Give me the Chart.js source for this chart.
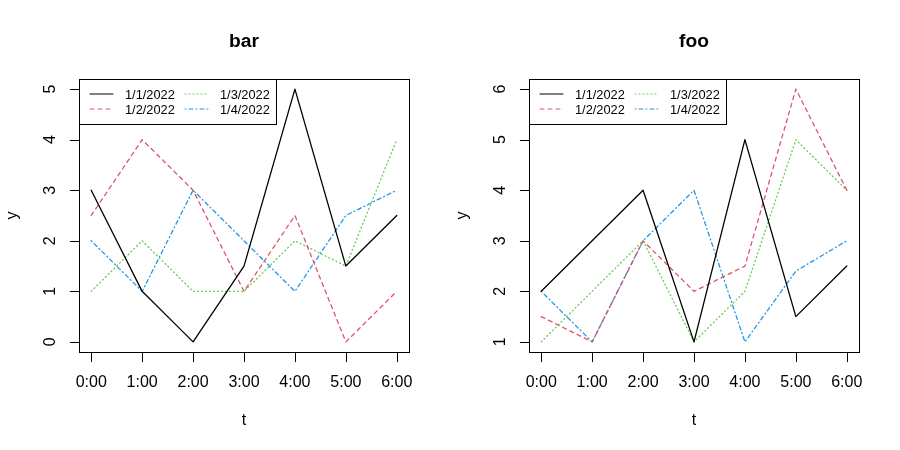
<!DOCTYPE html>
<html>
<head>
<meta charset="utf-8">
<script src="https://cdn.jsdelivr.net/npm/chart.js@4/dist/chart.umd.min.js"></script>
<style>
    html, body { margin: 0; padding: 0; background: #ffffff; }
    #wrap { width: 900px; height: 450px; display: flex; }
    canvas { display: block; }
</style>
</head>
<body>
<div id="wrap">
    <canvas id="graficoBar" width="450" height="450"></canvas>
    <canvas id="graficoFoo" width="450" height="450"></canvas>
</div>
<script>
// ============================================
// DADOS
// ============================================

const horas = ['0:00', '1:00', '2:00', '3:00', '4:00', '5:00', '6:00'];
const series = ['1/1/2022', '1/2/2022', '1/3/2022', '1/4/2022'];

// painel "bar"
const bar_1_1 = [3, 1, 0, 1.5, 5, 1.5, 2.5];
const bar_1_2 = [2.5, 4, 3, 1, 2.5, 0, 1];
const bar_1_3 = [1, 2, 1, 1, 2, 1.5, 4];
const bar_1_4 = [2, 1, 3, 2, 1, 2.5, 3];
const barTicksY = [0, 1, 2, 3, 4, 5];

// painel "foo"
const foo_1_1 = [2, 3, 4, 1, 5, 1.5, 2.5];
const foo_1_2 = [1.5, 1, 3, 2, 2.5, 6, 4];
const foo_1_3 = [1, 2, 3, 1, 2, 5, 4];
const foo_1_4 = [2, 1, 3, 4, 1, 2.4, 3];
const fooTicksY = [1, 2, 3, 4, 5, 6];

// ============================================
// ESTILO (cores e tracejados no padrão do R)
// ============================================

const cores = ['#000000', '#DF536B', '#61D04F', '#2297E6'];
const tracos = [[], [4, 4], [1, 3], [1, 3, 4, 3]];
const fonte = '"Liberation Sans", Arial, sans-serif';

/**
 * Plugin que desenha caixa, eixos, títulos e legenda como no R base
 */
const eixosR = {
    id: 'eixosR',
    afterDraw(chart, args, opts) {
        const ctx = chart.ctx;
        const area = chart.chartArea;
        const sx = chart.scales.x;
        const sy = chart.scales.y;
        const px = v => Math.round(v) + 0.5;

        ctx.save();
        ctx.strokeStyle = '#000000';
        ctx.fillStyle = '#000000';
        ctx.lineWidth = 1;
        ctx.setLineDash([]);

        // caixa do gráfico
        ctx.strokeRect(px(area.left), px(area.top),
            Math.round(area.right) - Math.round(area.left),
            Math.round(area.bottom) - Math.round(area.top));

        // eixo x
        const yb = px(area.bottom);
        ctx.beginPath();
        ctx.moveTo(px(sx.getPixelForValue(0)), yb);
        ctx.lineTo(px(sx.getPixelForValue(horas.length - 1)), yb);
        horas.forEach((h, i) => {
            const x = px(sx.getPixelForValue(i));
            ctx.moveTo(x, yb);
            ctx.lineTo(x, yb + 9.6);
        });
        ctx.stroke();

        ctx.font = '16px ' + fonte;
        ctx.textAlign = 'center';
        ctx.textBaseline = 'alphabetic';
        horas.forEach((h, i) => {
            ctx.fillText(h, sx.getPixelForValue(i), 387);
        });
        ctx.fillText('t', (area.left + area.right) / 2, 425);

        // eixo y
        const xl = px(area.left);
        const ticks = opts.ticksY;
        ctx.beginPath();
        ctx.moveTo(xl, px(sy.getPixelForValue(ticks[0])));
        ctx.lineTo(xl, px(sy.getPixelForValue(ticks[ticks.length - 1])));
        ticks.forEach(t => {
            const y = px(sy.getPixelForValue(t));
            ctx.moveTo(xl, y);
            ctx.lineTo(xl - 9.6, y);
        });
        ctx.stroke();

        ticks.forEach(t => {
            ctx.save();
            ctx.translate(55, sy.getPixelForValue(t));
            ctx.rotate(-Math.PI / 2);
            ctx.fillText(String(t), 0, 0);
            ctx.restore();
        });
        ctx.save();
        ctx.translate(16.5, (area.top + area.bottom) / 2);
        ctx.rotate(-Math.PI / 2);
        ctx.fillText('y', 0, 0);
        ctx.restore();

        // título
        ctx.font = 'bold 19.2px ' + fonte;
        ctx.fillText(opts.titulo, (area.left + area.right) / 2, 47);

        // legenda (2 colunas)
        const lx = Math.round(area.left);
        const ly = Math.round(area.top);
        ctx.fillStyle = '#ffffff';
        ctx.fillRect(lx + 0.5, ly + 0.5, 197, 45);
        ctx.strokeStyle = '#000000';
        ctx.strokeRect(lx + 0.5, ly + 0.5, 197, 45);

        ctx.font = '12.8px ' + fonte;
        ctx.textAlign = 'left';
        ctx.lineCap = 'round';
        series.forEach((nome, i) => {
            const col = Math.floor(i / 2);
            const lin = i % 2;
            const x0 = lx + 11 + col * 95;
            const yLinha = ly + 15 + lin * 15;
            ctx.strokeStyle = cores[i];
            ctx.setLineDash(tracos[i]);
            ctx.beginPath();
            ctx.moveTo(x0, yLinha);
            ctx.lineTo(x0 + 23, yLinha);
            ctx.stroke();
            ctx.fillStyle = '#000000';
            ctx.fillText(nome, x0 + 35, ly + 20 + lin * 15);
        });

        ctx.restore();
    }
};

/**
 * Montar os datasets de um painel
 */
function montarDatasets(listas) {
    return listas.map((valores, i) => ({
        label: series[i],
        data: valores.map((v, j) => ({ x: j, y: v })),
        borderColor: cores[i],
        borderWidth: 1.3,
        borderDash: tracos[i],
        borderCapStyle: 'round',
        borderJoinStyle: 'round',
        pointRadius: 0,
        tension: 0,
        fill: false
    }));
}

/**
 * Criar um painel (gráfico de linhas)
 */
function criarGrafico(idCanvas, titulo, listas, ticksY) {
    const ctx = document.getElementById(idCanvas).getContext('2d');

    // faixa dos dados + 4% como no R
    const todos = listas.flat();
    const ymin = Math.min(...todos);
    const ymax = Math.max(...todos);
    const dy = (ymax - ymin) * 0.04;
    const dx = (horas.length - 1) * 0.04;

    return new Chart(ctx, {
        type: 'line',
        data: { datasets: montarDatasets(listas) },
        options: {
            responsive: false,
            animation: false,
            devicePixelRatio: 1,
            layout: {
                padding: { left: 79, right: 41, top: 79, bottom: 98 }
            },
            plugins: {
                legend: { display: false },
                tooltip: { enabled: false },
                eixosR: { titulo: titulo, ticksY: ticksY }
            },
            scales: {
                x: {
                    type: 'linear',
                    display: false,
                    min: -dx,
                    max: horas.length - 1 + dx
                },
                y: {
                    type: 'linear',
                    display: false,
                    min: ymin - dy,
                    max: ymax + dy
                }
            }
        },
        plugins: [eixosR]
    });
}

criarGrafico('graficoBar', 'bar', [bar_1_1, bar_1_2, bar_1_3, bar_1_4], barTicksY);
criarGrafico('graficoFoo', 'foo', [foo_1_1, foo_1_2, foo_1_3, foo_1_4], fooTicksY);
</script>
</body>
</html>
